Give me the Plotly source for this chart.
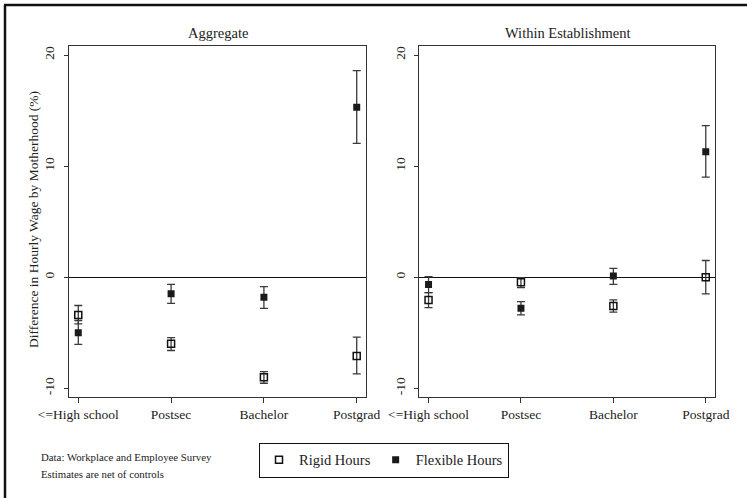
import plotly.graph_objects as go

# Education categories on the x axis
categories = ["<=High school", "Postsec", "Bachelor", "Postgrad"]
positions = [1, 2, 3, 4]

# Aggregate estimates (% difference) with 95% CI bounds
agg_rigid = [-3.4, -6.0, -9.0, -7.1]
agg_rigid_lo = [-4.2, -6.6, -9.55, -8.7]
agg_rigid_hi = [-2.55, -5.45, -8.5, -5.4]
agg_flex = [-5.0, -1.5, -1.8, 15.3]
agg_flex_lo = [-6.05, -2.35, -2.8, 12.05]
agg_flex_hi = [-3.9, -0.65, -0.85, 18.6]

# Within-establishment estimates with 95% CI bounds
est_rigid = [-2.05, -0.45, -2.6, 0.0]
est_rigid_lo = [-2.75, -0.95, -3.15, -1.5]
est_rigid_hi = [-1.4, -0.05, -2.05, 1.5]
est_flex = [-0.65, -2.8, 0.1, 11.3]
est_flex_lo = [-1.4, -3.4, -0.65, 9.0]
est_flex_hi = [0.05, -2.2, 0.8, 13.65]

panel_titles = ["Aggregate", "Within Establishment"]
y_ticks = [-10, 0, 10, 20]
y_tick_labels = ["-10", "0", "10", "20"]

W, H = 747, 498
SERIF = "Liberation Serif, Times New Roman, serif"


def px_x(v):
    return v / W


def px_y(v):
    return 1 - v / H


def err(est, lo, hi):
    return dict(
        type="data",
        symmetric=False,
        array=[h - e for e, h in zip(est, hi)],
        arrayminus=[e - l for e, l in zip(est, lo)],
        color="#3a3a3a",
        thickness=1.3,
        width=4,
    )


fig = go.Figure()

panels = [
    ("x", "y", agg_rigid, agg_rigid_lo, agg_rigid_hi, agg_flex, agg_flex_lo, agg_flex_hi),
    ("x2", "y2", est_rigid, est_rigid_lo, est_rigid_hi, est_flex, est_flex_lo, est_flex_hi),
]

for i, (xa, ya, r, rlo, rhi, f, flo, fhi) in enumerate(panels):
    fig.add_trace(go.Scatter(
        x=positions, y=r, xaxis=xa, yaxis=ya, mode="markers",
        name="Rigid Hours", legendgroup="rigid", showlegend=(i == 0),
        marker=dict(symbol="square-open", size=7, color="#111111",
                    line=dict(width=1.5, color="#111111")),
        error_y=err(r, rlo, rhi),
    ))
    fig.add_trace(go.Scatter(
        x=positions, y=f, xaxis=xa, yaxis=ya, mode="markers",
        name="Flexible Hours", legendgroup="flex", showlegend=(i == 0),
        marker=dict(symbol="square", size=7, color="#1a1a1a",
                    line=dict(width=0)),
        error_y=err(f, flo, fhi),
    ))

y_dom = [px_y(396.7), px_y(46)]
x_doms = [[px_x(69), px_x(366)], [px_x(419.3), px_x(715)]]

axis_common = dict(
    showline=True, mirror=True, linecolor="#333333", linewidth=1.3,
    showgrid=False, ticks="outside", tickcolor="#333333", tickwidth=1,
    tickfont=dict(family=SERIF, size=13.5, color="#222222"),
    automargin=False,
)

for i in range(2):
    sx = "" if i == 0 else "2"
    fig.update_layout(**{
        f"xaxis{sx}": dict(
            axis_common, domain=x_doms[i], range=[0.9, 4.1],
            tickvals=positions, ticktext=categories, ticklen=5,
            zeroline=False, anchor=f"y{sx}",
        ),
        f"yaxis{sx}": dict(
            axis_common, domain=y_dom, range=[-10.76, 20.81],
            tickvals=y_ticks, ticktext=y_tick_labels, ticklen=4, tickangle=-90,
            ticklabelstandoff=4,
            zeroline=True, zerolinecolor="#111111", zerolinewidth=1.2,
            anchor=f"x{sx}",
        ),
    })

annotations = []
for i, t in enumerate(panel_titles):
    annotations.append(dict(
        text=t, x=sum(x_doms[i]) / 2, y=px_y(33), xref="paper", yref="paper",
        showarrow=False, xanchor="center", yanchor="middle",
        font=dict(family=SERIF, size=14.5, color="#222222"),
    ))

annotations.append(dict(
    text="Difference in Hourly Wage by Motherhood (%)",
    x=px_x(34), y=px_y(220), xref="paper", yref="paper",
    textangle=-90, showarrow=False, xanchor="center", yanchor="middle",
    font=dict(family=SERIF, size=13.5, color="#222222"),
))

for txt, yy in [("Data: Workplace and Employee Survey", 457),
                ("Estimates are net of controls", 474)]:
    annotations.append(dict(
        text=txt, x=px_x(39), y=px_y(yy), xref="paper", yref="paper",
        showarrow=False, xanchor="left", yanchor="middle",
        font=dict(family=SERIF, size=10.8, color="#222222"),
    ))

# Outer frame (left and top edges)
shapes = [
    dict(type="line", xref="paper", yref="paper",
         x0=px_x(5), y0=0, x1=px_x(5), y1=px_y(5),
         line=dict(color="#111111", width=2.5)),
    dict(type="line", xref="paper", yref="paper",
         x0=px_x(4), y0=px_y(5), x1=1, y1=px_y(5),
         line=dict(color="#111111", width=2.5)),
]

fig.update_layout(
    template="none",
    width=W, height=H,
    margin=dict(l=0, r=0, t=0, b=0, autoexpand=False),
    paper_bgcolor="white", plot_bgcolor="white",
    showlegend=True,
    legend=dict(
        orientation="h", x=px_x(259), y=px_y(442.7),
        xanchor="left", yanchor="top",
        bordercolor="#111111", borderwidth=1.2, bgcolor="white",
        font=dict(family=SERIF, size=14.5, color="#222222"),
    ),
    annotations=annotations,
    shapes=shapes,
)

fig.write_html("out.html")
